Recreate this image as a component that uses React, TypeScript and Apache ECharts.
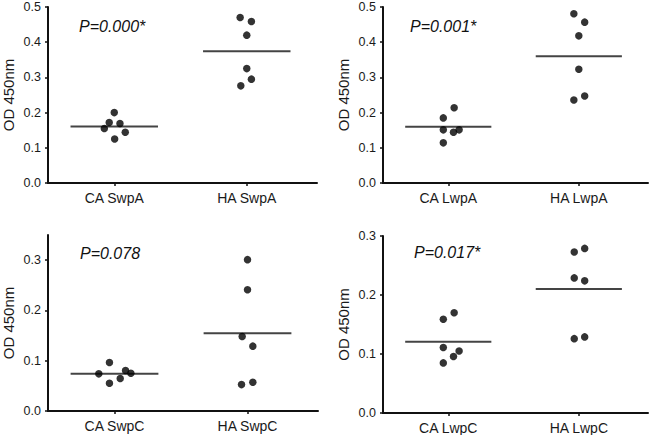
import React, { useEffect, useRef } from "react";
import * as echarts from "echarts";

// Panel 1: SwpA
const swpAGroups = ["CA SwpA", "HA SwpA"];
const swpACA = [0.2, 0.172, 0.169, 0.155, 0.144, 0.125];
const swpACAJitter = [0, -0.038, 0.043, -0.075, 0.083, 0.003];
const swpAHA = [0.47, 0.459, 0.42, 0.325, 0.295, 0.276];
const swpAHAJitter = [-0.05, 0.035, 0, 0, 0.035, -0.045];
const swpAP = "P=0.000*";

// Panel 2: LwpA
const lwpAGroups = ["CA LwpA", "HA LwpA"];
const lwpACA = [0.214, 0.185, 0.151, 0.144, 0.151, 0.114];
const lwpACAJitter = [0.045, -0.038, -0.038, 0.04, 0.083, -0.038];
const lwpAHA = [0.481, 0.457, 0.418, 0.323, 0.236, 0.247];
const lwpAHAJitter = [-0.038, 0.045, 0, 0, -0.038, 0.045];
const lwpAP = "P=0.001*";

// Panel 3: SwpC
const swpCGroups = ["CA SwpC", "HA SwpC"];
const swpCCA = [0.0964, 0.0739, 0.0804, 0.0752, 0.0645, 0.0553];
const swpCCAJitter = [-0.038, -0.118, 0.083, 0.123, 0.043, -0.038];
const swpCHA = [0.301, 0.241, 0.148, 0.129, 0.0525, 0.0573];
const swpCHAJitter = [0, 0, -0.04, 0.04, -0.045, 0.04];
const swpCP = "P=0.078";

// Panel 4: LwpC
const lwpCGroups = ["CA LwpC", "HA LwpC"];
const lwpCCA = [0.17, 0.159, 0.111, 0.105, 0.0958, 0.0849];
const lwpCCAJitter = [0.045, -0.038, -0.038, 0.083, 0.04, -0.038];
const lwpCHA = [0.273, 0.279, 0.229, 0.224, 0.126, 0.129];
const lwpCHAJitter = [-0.035, 0.045, -0.035, 0.045, -0.035, 0.045];
const lwpCP = "P=0.017*";

const yTicksA = [0, 0.1, 0.2, 0.3, 0.4, 0.5];
const yTicksSwpC = [0, 0.1, 0.2, 0.3];
const yTicksLwpC = [0, 0.1, 0.2, 0.3];
const yMaxes = [0.5, 0.5, 0.35, 0.3];

const groupCenters = [0.5, 1.5];
const FONT = "'Liberation Sans', Arial, sans-serif";

const panels = [
  { groups: swpAGroups, ca: swpACA, caJ: swpACAJitter, ha: swpAHA, haJ: swpAHAJitter, p: swpAP, ticks: yTicksA },
  { groups: lwpAGroups, ca: lwpACA, caJ: lwpACAJitter, ha: lwpAHA, haJ: lwpAHAJitter, p: lwpAP, ticks: yTicksA },
  { groups: swpCGroups, ca: swpCCA, caJ: swpCCAJitter, ha: swpCHA, haJ: swpCHAJitter, p: swpCP, ticks: yTicksSwpC },
  { groups: lwpCGroups, ca: lwpCCA, caJ: lwpCCAJitter, ha: lwpCHA, haJ: lwpCHAJitter, p: lwpCP, ticks: yTicksLwpC },
];

const grids = [
  { left: 48, top: 7, width: 269, height: 176 },
  { left: 383, top: 7, width: 265, height: 176 },
  { left: 48, top: 235, width: 270, height: 176 },
  { left: 383, top: 236, width: 265, height: 177 },
];

const pPos = [
  { x: 79, y: 27 },
  { x: 410, y: 27 },
  { x: 80, y: 254 },
  { x: 414, y: 253 },
];

const mean = (a: number[]) => a.reduce((s, v) => s + v, 0) / a.length;

export default function App() {
  const ref = useRef<HTMLDivElement>(null);
  useEffect(() => {
    if (!ref.current) return;
    const chart = echarts.init(ref.current, undefined, { renderer: "svg" });
    const xAxis: any[] = [];
    const yAxis: any[] = [];
    const series: any[] = [];
    const graphic: any[] = [];
    panels.forEach((pn, i) => {
      xAxis.push({
        type: "value",
        gridIndex: i,
        min: 0,
        max: 2.03,
        splitLine: { show: false },
        axisLine: { show: true, lineStyle: { color: "#111", width: 2 } },
        axisTick: { show: true, customValues: groupCenters, length: 3, lineStyle: { color: "#111", width: 1.5 } },
        axisLabel: {
          customValues: groupCenters,
          formatter: (v: number) => (v < 1 ? pn.groups[0] : pn.groups[1]),
          color: "#1a1a1a",
          fontFamily: FONT,
          fontSize: 14,
          margin: 8,
        },
      });
      yAxis.push({
        type: "value",
        gridIndex: i,
        min: 0,
        max: yMaxes[i],
        name: "OD 450nm",
        nameLocation: "middle",
        nameGap: 32,
        nameTextStyle: { fontFamily: FONT, fontSize: 15, color: "#1a1a1a" },
        splitLine: { show: false },
        axisLine: { show: true, lineStyle: { color: "#111", width: 2 } },
        axisTick: { show: true, customValues: pn.ticks, length: 3, lineStyle: { color: "#111", width: 1.5 } },
        axisLabel: {
          customValues: pn.ticks,
          formatter: (v: number) => v.toFixed(1),
          color: "#1a1a1a",
          fontFamily: FONT,
          fontSize: 12.5,
          margin: 7,
        },
      });
      const pts = [
        ...pn.ca.map((v, k) => [groupCenters[0] + pn.caJ[k], v]),
        ...pn.ha.map((v, k) => [groupCenters[1] + pn.haJ[k], v]),
      ];
      series.push({
        type: "scatter",
        xAxisIndex: i,
        yAxisIndex: i,
        data: pts,
        symbol: "circle",
        symbolSize: 7.5,
        itemStyle: { color: "#000" },
        silent: true,
        z: 3,
      });
      [pn.ca, pn.ha].forEach((vals, g) => {
        const m = mean(vals);
        series.push({
          type: "line",
          xAxisIndex: i,
          yAxisIndex: i,
          data: [
            [groupCenters[g] - 0.33, m],
            [groupCenters[g] + 0.33, m],
          ],
          symbol: "none",
          lineStyle: { color: "#444", width: 2 },
          silent: true,
          z: 1,
        });
      });
      graphic.push({
        type: "text",
        left: pPos[i].x,
        top: pPos[i].y - 9,
        style: {
          text: pn.p,
          font: `italic 16px ${FONT}`,
          fill: "#111",
        },
      });
    });
    chart.setOption({
      animation: false,
      backgroundColor: "#fff",
      grid: grids.map((g) => ({ ...g, containLabel: false })),
      xAxis,
      yAxis,
      series,
      graphic,
    });
    return () => chart.dispose();
  }, []);
  return (
    <div
      ref={ref}
      style={{ position: "fixed", left: 0, top: 0, width: 650, height: 435, background: "#fff" }}
    />
  );
}
